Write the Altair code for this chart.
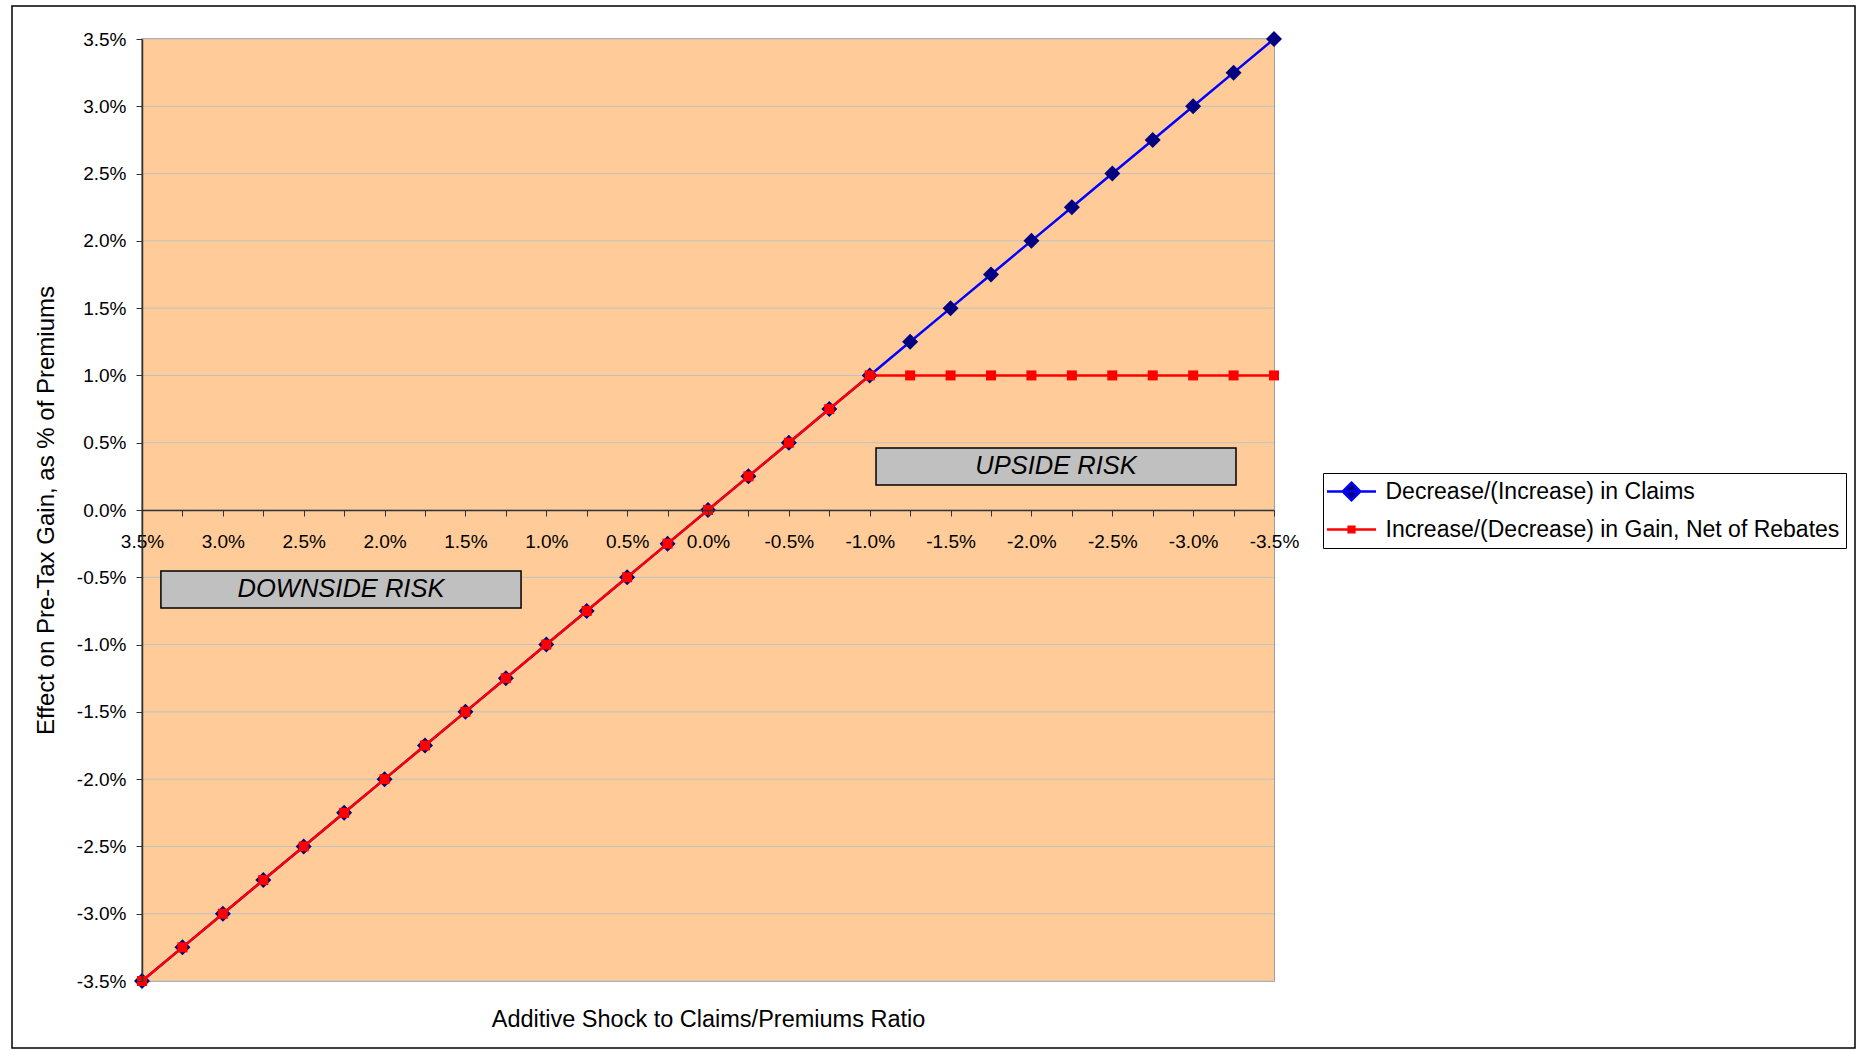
import altair as alt
import pandas as pd

# ---- data ----
shock = [3.5, 3.25, 3.0, 2.75, 2.5, 2.25, 2.0, 1.75, 1.5, 1.25, 1.0, 0.75, 0.5, 0.25, 0.0,
         -0.25, -0.5, -0.75, -1.0, -1.25, -1.5, -1.75, -2.0, -2.25, -2.5, -2.75, -3.0, -3.25, -3.5]
claims = [-3.5, -3.25, -3.0, -2.75, -2.5, -2.25, -2.0, -1.75, -1.5, -1.25, -1.0, -0.75, -0.5, -0.25, 0.0,
          0.25, 0.5, 0.75, 1.0, 1.25, 1.5, 1.75, 2.0, 2.25, 2.5, 2.75, 3.0, 3.25, 3.5]
gain = [-3.5, -3.25, -3.0, -2.75, -2.5, -2.25, -2.0, -1.75, -1.5, -1.25, -1.0, -0.75, -0.5, -0.25, 0.0,
        0.25, 0.5, 0.75, 1.0, 1.0, 1.0, 1.0, 1.0, 1.0, 1.0, 1.0, 1.0, 1.0, 1.0]
series_names = ["Decrease/(Increase) in Claims", "Increase/(Decrease) in Gain, Net of Rebates"]

x_ticks = [3.5, 3.25, 3.0, 2.75, 2.5, 2.25, 2.0, 1.75, 1.5, 1.25, 1.0, 0.75, 0.5, 0.25, 0.0,
           -0.25, -0.5, -0.75, -1.0, -1.25, -1.5, -1.75, -2.0, -2.25, -2.5, -2.75, -3.0, -3.25, -3.5]
y_ticks = [-3.5, -3.0, -2.5, -2.0, -1.5, -1.0, -0.5, 0.0, 0.5, 1.0, 1.5, 2.0, 2.5, 3.0, 3.5]
x_domain = [-3.5, 3.5]
y_domain = [-3.5, 3.5]

ann_labels = ["DOWNSIDE RISK", "UPSIDE RISK"]
ann_x1 = [3.383, -1.039]
ann_x2 = [1.156, -3.265]
ann_y1 = [-0.453, 0.461]
ann_y2 = [-0.728, 0.186]

df = pd.DataFrame({"shock": shock, "claims": claims, "gain": gain})
ann = pd.DataFrame({"label": ann_labels, "x1": ann_x1, "x2": ann_x2, "y1": ann_y1, "y2": ann_y2})
leg = pd.DataFrame({"series": series_names})
bg = pd.DataFrame({"x1": [x_domain[0]], "x2": [x_domain[1]], "y1": [y_domain[0]], "y2": [y_domain[1]]})
grid = pd.DataFrame({"yv": y_ticks})

FONT = "Liberation Sans"
W, H = 1132, 942

pct_expr = "(datum.value < 0 ? '-' : '') + format(abs(datum.value), '.1f') + '%'"
x_label_expr = ("abs(datum.value*2 - round(datum.value*2)) < 0.01 ? (" + pct_expr + ") : ''")

x_scale = alt.Scale(domain=x_domain, reverse=True, nice=False, zero=False)
y_scale = alt.Scale(domain=y_domain, nice=False, zero=False)

x_axis = alt.Axis(
    values=x_ticks, labelExpr=x_label_expr, offset=-(H / 2), grid=False, zindex=1,
    domainColor="#333333", domainWidth=1.5, tickColor="#333333", tickSize=6, tickWidth=1,
    labelFont=FONT, labelFontSize=19, labelColor="#000000", labelPadding=16,
    labelOverlap=False, labelFlush=False, labelBound=False,
    title="Additive Shock to Claims/Premiums Ratio", titleFont=FONT, titleFontSize=23.5,
    titleFontWeight="normal", titleColor="#000000", titleY=H / 2 + 38, titleBaseline="middle",
)
y_axis = alt.Axis(
    values=y_ticks, labelExpr=pct_expr, grid=False, zindex=1,
    domainColor="#333333", domainWidth=1.5, tickColor="#333333", tickSize=6, tickWidth=1,
    labelFont=FONT, labelFontSize=19, labelColor="#000000", labelPadding=10,
    labelOverlap=False, labelFlush=False, labelBound=False,
    title="Effect on Pre-Tax Gain, as % of Premiums", titleFont=FONT, titleFontSize=24,
    titleFontWeight="normal", titleColor="#000000", titleX=-96, titleY=H / 2,
    titleAlign="center", titleBaseline="middle", titleAngle=-90,
)


def X(field):
    return alt.X(field, type="quantitative", scale=x_scale, axis=x_axis)


def Y(field):
    return alt.Y(field, type="quantitative", scale=y_scale, axis=y_axis)


base = alt.Chart(df)

plot_bg = alt.Chart(bg).mark_rect(fill="#FFCC99", strokeWidth=0).encode(
    x=X("x1"), x2="x2", y=Y("y1"), y2="y2")
grid_rules = alt.Chart(grid).mark_rule(color="#C0C0C0", strokeWidth=1).encode(y=Y("yv"))

ann_rect = alt.Chart(ann).mark_rect(fill="#C0C0C0", stroke="#000000", strokeWidth=1.5).encode(
    x=X("x1"), x2="x2", y=Y("y1"), y2="y2")
ann_text = alt.Chart(ann).transform_calculate(
    xm="(datum.x1 + datum.x2) / 2", ym="(datum.y1 + datum.y2) / 2"
).mark_text(font=FONT, fontSize=25.5, fontStyle="italic", color="#000000",
            align="center", baseline="middle").encode(x=X("xm"), y=Y("ym"), text="label:N")

blue_line = base.mark_line(color="#0000FF", strokeWidth=2.5, clip=False).encode(x=X("shock"), y=Y("claims"))
blue_pts = base.mark_point(shape="diamond", filled=True, fill="#000080", size=256, opacity=1,
                           clip=False).encode(x=X("shock"), y=Y("claims"))
red_line = base.mark_line(color="#FF0000", strokeWidth=2.5, clip=False).encode(x=X("shock"), y=Y("gain"))
red_pts = base.mark_point(shape="square", filled=True, fill="#FF0000", size=100, opacity=1,
                          clip=False).encode(x=X("shock"), y=Y("gain"))

diamond_path = "M-2.23,0H2.23M0,-0.8L0.8,0L0,0.8L-0.8,0Z"
square_path = "M-2.23,0H2.23M-0.26,-0.26H0.26V0.26H-0.26Z"

legend_layer = alt.Chart(leg).transform_filter("false").mark_point(
    filled=True, strokeWidth=2.5, opacity=1
).encode(
    fill=alt.Fill("series:N", scale=alt.Scale(domain=series_names, range=["#000080", "#FF0000"]),
                  legend=alt.Legend(title=None)),
    stroke=alt.Stroke("series:N", scale=alt.Scale(domain=series_names, range=["#0000FF", "#FF0000"]),
                      legend=alt.Legend(title=None)),
    shape=alt.Shape("series:N", scale=alt.Scale(domain=series_names, range=[diamond_path, square_path]),
                    legend=alt.Legend(title=None)),
)

frame = alt.Chart(pd.DataFrame({"k": [0]})).mark_rect(
    fill="transparent", stroke="#000000", strokeWidth=1.5, clip=False
).encode(x=alt.value(-130), x2=alt.value(1713), y=alt.value(-33), y2=alt.value(1009))

chart = alt.layer(
    plot_bg, grid_rules, ann_rect, ann_text, blue_line, blue_pts, red_line, red_pts, legend_layer, frame
).properties(
    width=W, height=H,
    padding={"left": 142, "top": 39, "right": 584, "bottom": 70},
    autosize=alt.AutoSizeParams(type="none"),
    background="#FFFFFF",
).configure_view(
    stroke="#808080", strokeWidth=1.5
).configure_legend(
    orient="none", legendX=1181, legendY=434, strokeColor="#000000", fillColor="#FFFFFF",
    padding=6, labelFont=FONT, labelFontSize=23, labelColor="#000000", symbolSize=484,
    symbolStrokeWidth=2.5, labelOffset=21.5, rowPadding=11, symbolOffset=10, cornerRadius=0,
    labelLimit=0,
)

chart.save("out.html", embed_options={"renderer": "svg", "actions": False})
